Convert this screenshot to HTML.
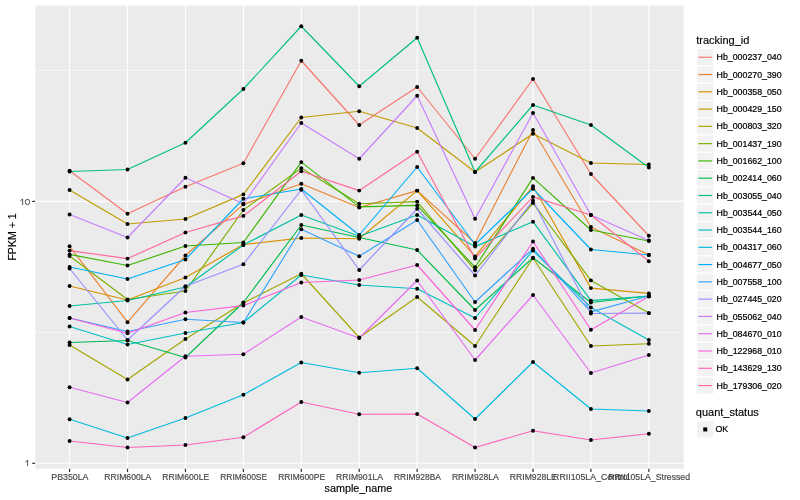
<!DOCTYPE html>
<html><head><meta charset="utf-8"><title>expression plot</title>
<style>
html,body{margin:0;padding:0;background:#fff;}
body{width:800px;height:500px;overflow:hidden;}
svg{display:block;will-change:transform;}
text{font-family:"Liberation Sans",sans-serif;}
.ax{font-size:8.8px;fill:#454545;stroke:#4D4D4D;stroke-width:0.18px;}
.lg{font-size:8.8px;fill:#000;stroke:#000;stroke-width:0.22px;}
.tt{font-size:11px;fill:#000;stroke:#000;stroke-width:0.15px;}
</style></head><body>
<svg width="800" height="500" viewBox="0 0 800 500">
<rect x="0" y="0" width="800" height="500" fill="#FFFFFF"/>
<rect x="35.4" y="5.6" width="648.35" height="463.15" fill="#EBEBEB"/>
<line x1="35.4" x2="683.75" y1="70.4" y2="70.4" stroke="#FFFFFF" stroke-width="0.55"/>
<line x1="35.4" x2="683.75" y1="332.4" y2="332.4" stroke="#FFFFFF" stroke-width="0.55"/>
<line x1="35.4" x2="683.75" y1="201.4" y2="201.4" stroke="#FFFFFF" stroke-width="1.07"/>
<line x1="35.4" x2="683.75" y1="463.3" y2="463.3" stroke="#FFFFFF" stroke-width="1.07"/>
<line x1="69.60" x2="69.60" y1="5.6" y2="468.75" stroke="#FFFFFF" stroke-width="1.07"/>
<line x1="127.52" x2="127.52" y1="5.6" y2="468.75" stroke="#FFFFFF" stroke-width="1.07"/>
<line x1="185.45" x2="185.45" y1="5.6" y2="468.75" stroke="#FFFFFF" stroke-width="1.07"/>
<line x1="243.37" x2="243.37" y1="5.6" y2="468.75" stroke="#FFFFFF" stroke-width="1.07"/>
<line x1="301.30" x2="301.30" y1="5.6" y2="468.75" stroke="#FFFFFF" stroke-width="1.07"/>
<line x1="359.23" x2="359.23" y1="5.6" y2="468.75" stroke="#FFFFFF" stroke-width="1.07"/>
<line x1="417.15" x2="417.15" y1="5.6" y2="468.75" stroke="#FFFFFF" stroke-width="1.07"/>
<line x1="475.07" x2="475.07" y1="5.6" y2="468.75" stroke="#FFFFFF" stroke-width="1.07"/>
<line x1="533.00" x2="533.00" y1="5.6" y2="468.75" stroke="#FFFFFF" stroke-width="1.07"/>
<line x1="590.92" x2="590.92" y1="5.6" y2="468.75" stroke="#FFFFFF" stroke-width="1.07"/>
<line x1="648.85" x2="648.85" y1="5.6" y2="468.75" stroke="#FFFFFF" stroke-width="1.07"/>
<g fill="none" stroke-width="1.15" stroke-linejoin="round" stroke-linecap="butt">
<polyline points="69.60,170.70 127.52,213.75 185.45,186.75 243.37,163.25 301.30,60.75 359.23,125.00 417.15,87.00 475.07,158.75 533.00,79.00 590.92,174.00 648.85,235.75" stroke="#F8766D"/>
<polyline points="69.60,246.25 127.52,322.20 185.45,255.50 243.37,204.40 301.30,183.75 359.23,207.50 417.15,190.60 475.07,243.00 533.00,130.00 590.92,227.00 648.85,255.00" stroke="#EA8331"/>
<polyline points="69.60,286.00 127.52,300.00 185.45,277.50 243.37,244.50 301.30,238.00 359.23,238.75 417.15,190.60 475.07,256.40 533.00,186.25 590.92,288.10 648.85,293.40" stroke="#D89000"/>
<polyline points="69.60,190.00 127.52,224.00 185.45,219.00 243.37,194.40 301.30,117.50 359.23,111.25 417.15,128.00 475.07,172.00 533.00,133.75 590.92,163.00 648.85,164.50" stroke="#C09B00"/>
<polyline points="69.60,345.00 127.52,379.50 185.45,339.00 243.37,303.00 301.30,273.75 359.23,337.50 417.15,297.00 475.07,346.00 533.00,258.00 590.92,346.00 648.85,343.75" stroke="#A3A500"/>
<polyline points="69.60,256.00 127.52,299.50 185.45,291.00 243.37,210.00 301.30,168.10 359.23,203.75 417.15,201.60 475.07,270.20 533.00,203.00 590.92,280.40 648.85,313.10" stroke="#7CAE00"/>
<polyline points="69.60,254.40 127.52,265.50 185.45,246.00 243.37,242.50 301.30,162.10 359.23,206.90 417.15,205.40 475.07,267.20 533.00,177.90 590.92,230.00 648.85,241.00" stroke="#39B600"/>
<polyline points="69.60,342.50 127.52,340.50 185.45,357.50 243.37,302.50 301.30,225.00 359.23,237.50 417.15,250.00 475.07,310.00 533.00,257.75 590.92,302.50 648.85,296.00" stroke="#00BB4E"/>
<polyline points="69.60,171.50 127.52,169.50 185.45,142.75 243.37,89.00 301.30,26.25 359.23,86.25 417.15,37.75 475.07,172.00 533.00,105.00 590.92,125.00 648.85,167.50" stroke="#00BF7D"/>
<polyline points="69.60,306.00 127.52,300.50 185.45,287.00 243.37,245.00 301.30,215.00 359.23,236.25 417.15,215.00 475.07,246.60 533.00,221.70 590.92,300.60 648.85,296.00" stroke="#00C1A3"/>
<polyline points="69.60,326.50 127.52,344.50 185.45,333.00 243.37,322.50 301.30,275.00 359.23,285.00 417.15,288.75 475.07,318.00 533.00,250.60 590.92,307.50 648.85,340.00" stroke="#00BFC4"/>
<polyline points="69.60,419.25 127.52,438.00 185.45,418.00 243.37,394.75 301.30,362.50 359.23,372.75 417.15,368.25 475.07,419.00 533.00,362.00 590.92,409.00 648.85,411.00" stroke="#00BAE0"/>
<polyline points="69.60,267.00 127.52,279.00 185.45,259.50 243.37,198.75 301.30,189.00 359.23,235.00 417.15,167.00 475.07,244.50 533.00,188.75 590.92,249.50 648.85,255.00" stroke="#00B0F6"/>
<polyline points="69.60,318.00 127.52,331.50 185.45,319.25 243.37,322.50 301.30,229.25 359.23,256.25 417.15,220.00 475.07,302.00 533.00,248.75 590.92,311.90 648.85,296.00" stroke="#35A2FF"/>
<polyline points="69.60,268.50 127.52,340.00 185.45,286.25 243.37,264.25 301.30,189.75 359.23,270.00 417.15,208.75 475.07,275.50 533.00,200.60 590.92,313.50 648.85,313.10" stroke="#9590FF"/>
<polyline points="69.60,214.50 127.52,237.50 185.45,177.75 243.37,203.75 301.30,123.00 359.23,158.75 417.15,95.75 475.07,218.75 533.00,113.00 590.92,215.00 648.85,240.50" stroke="#C77CFF"/>
<polyline points="69.60,387.20 127.52,402.50 185.45,356.25 243.37,354.25 301.30,317.00 359.23,338.00 417.15,280.50 475.07,360.00 533.00,295.00 590.92,373.00 648.85,355.00" stroke="#E76BF3"/>
<polyline points="69.60,318.00 127.52,333.30 185.45,312.50 243.37,305.60 301.30,282.50 359.23,280.00 417.15,265.00 475.07,330.00 533.00,241.50 590.92,329.75 648.85,296.50" stroke="#FA62DB"/>
<polyline points="69.60,441.00 127.52,447.50 185.45,445.00 243.37,437.25 301.30,402.00 359.23,414.25 417.15,414.00 475.07,447.50 533.00,430.75 590.92,440.00 648.85,433.75" stroke="#FF62BC"/>
<polyline points="69.60,250.60 127.52,258.60 185.45,232.50 243.37,215.90 301.30,171.25 359.23,190.60 417.15,151.75 475.07,258.50 533.00,196.90 590.92,215.00 648.85,261.25" stroke="#FF6A98"/>
</g>
<g fill="#000000">
<circle cx="69.60" cy="170.70" r="1.95"/><circle cx="127.52" cy="213.75" r="1.95"/><circle cx="185.45" cy="186.75" r="1.95"/><circle cx="243.37" cy="163.25" r="1.95"/><circle cx="301.30" cy="60.75" r="1.95"/><circle cx="359.23" cy="125.00" r="1.95"/><circle cx="417.15" cy="87.00" r="1.95"/><circle cx="475.07" cy="158.75" r="1.95"/><circle cx="533.00" cy="79.00" r="1.95"/><circle cx="590.92" cy="174.00" r="1.95"/><circle cx="648.85" cy="235.75" r="1.95"/>
<circle cx="69.60" cy="246.25" r="1.95"/><circle cx="127.52" cy="322.20" r="1.95"/><circle cx="185.45" cy="255.50" r="1.95"/><circle cx="243.37" cy="204.40" r="1.95"/><circle cx="301.30" cy="183.75" r="1.95"/><circle cx="359.23" cy="207.50" r="1.95"/><circle cx="417.15" cy="190.60" r="1.95"/><circle cx="475.07" cy="243.00" r="1.95"/><circle cx="533.00" cy="130.00" r="1.95"/><circle cx="590.92" cy="227.00" r="1.95"/><circle cx="648.85" cy="255.00" r="1.95"/>
<circle cx="69.60" cy="286.00" r="1.95"/><circle cx="127.52" cy="300.00" r="1.95"/><circle cx="185.45" cy="277.50" r="1.95"/><circle cx="243.37" cy="244.50" r="1.95"/><circle cx="301.30" cy="238.00" r="1.95"/><circle cx="359.23" cy="238.75" r="1.95"/><circle cx="417.15" cy="190.60" r="1.95"/><circle cx="475.07" cy="256.40" r="1.95"/><circle cx="533.00" cy="186.25" r="1.95"/><circle cx="590.92" cy="288.10" r="1.95"/><circle cx="648.85" cy="293.40" r="1.95"/>
<circle cx="69.60" cy="190.00" r="1.95"/><circle cx="127.52" cy="224.00" r="1.95"/><circle cx="185.45" cy="219.00" r="1.95"/><circle cx="243.37" cy="194.40" r="1.95"/><circle cx="301.30" cy="117.50" r="1.95"/><circle cx="359.23" cy="111.25" r="1.95"/><circle cx="417.15" cy="128.00" r="1.95"/><circle cx="475.07" cy="172.00" r="1.95"/><circle cx="533.00" cy="133.75" r="1.95"/><circle cx="590.92" cy="163.00" r="1.95"/><circle cx="648.85" cy="164.50" r="1.95"/>
<circle cx="69.60" cy="345.00" r="1.95"/><circle cx="127.52" cy="379.50" r="1.95"/><circle cx="185.45" cy="339.00" r="1.95"/><circle cx="243.37" cy="303.00" r="1.95"/><circle cx="301.30" cy="273.75" r="1.95"/><circle cx="359.23" cy="337.50" r="1.95"/><circle cx="417.15" cy="297.00" r="1.95"/><circle cx="475.07" cy="346.00" r="1.95"/><circle cx="533.00" cy="258.00" r="1.95"/><circle cx="590.92" cy="346.00" r="1.95"/><circle cx="648.85" cy="343.75" r="1.95"/>
<circle cx="69.60" cy="256.00" r="1.95"/><circle cx="127.52" cy="299.50" r="1.95"/><circle cx="185.45" cy="291.00" r="1.95"/><circle cx="243.37" cy="210.00" r="1.95"/><circle cx="301.30" cy="168.10" r="1.95"/><circle cx="359.23" cy="203.75" r="1.95"/><circle cx="417.15" cy="201.60" r="1.95"/><circle cx="475.07" cy="270.20" r="1.95"/><circle cx="533.00" cy="203.00" r="1.95"/><circle cx="590.92" cy="280.40" r="1.95"/><circle cx="648.85" cy="313.10" r="1.95"/>
<circle cx="69.60" cy="254.40" r="1.95"/><circle cx="127.52" cy="265.50" r="1.95"/><circle cx="185.45" cy="246.00" r="1.95"/><circle cx="243.37" cy="242.50" r="1.95"/><circle cx="301.30" cy="162.10" r="1.95"/><circle cx="359.23" cy="206.90" r="1.95"/><circle cx="417.15" cy="205.40" r="1.95"/><circle cx="475.07" cy="267.20" r="1.95"/><circle cx="533.00" cy="177.90" r="1.95"/><circle cx="590.92" cy="230.00" r="1.95"/><circle cx="648.85" cy="241.00" r="1.95"/>
<circle cx="69.60" cy="342.50" r="1.95"/><circle cx="127.52" cy="340.50" r="1.95"/><circle cx="185.45" cy="357.50" r="1.95"/><circle cx="243.37" cy="302.50" r="1.95"/><circle cx="301.30" cy="225.00" r="1.95"/><circle cx="359.23" cy="237.50" r="1.95"/><circle cx="417.15" cy="250.00" r="1.95"/><circle cx="475.07" cy="310.00" r="1.95"/><circle cx="533.00" cy="257.75" r="1.95"/><circle cx="590.92" cy="302.50" r="1.95"/><circle cx="648.85" cy="296.00" r="1.95"/>
<circle cx="69.60" cy="171.50" r="1.95"/><circle cx="127.52" cy="169.50" r="1.95"/><circle cx="185.45" cy="142.75" r="1.95"/><circle cx="243.37" cy="89.00" r="1.95"/><circle cx="301.30" cy="26.25" r="1.95"/><circle cx="359.23" cy="86.25" r="1.95"/><circle cx="417.15" cy="37.75" r="1.95"/><circle cx="475.07" cy="172.00" r="1.95"/><circle cx="533.00" cy="105.00" r="1.95"/><circle cx="590.92" cy="125.00" r="1.95"/><circle cx="648.85" cy="167.50" r="1.95"/>
<circle cx="69.60" cy="306.00" r="1.95"/><circle cx="127.52" cy="300.50" r="1.95"/><circle cx="185.45" cy="287.00" r="1.95"/><circle cx="243.37" cy="245.00" r="1.95"/><circle cx="301.30" cy="215.00" r="1.95"/><circle cx="359.23" cy="236.25" r="1.95"/><circle cx="417.15" cy="215.00" r="1.95"/><circle cx="475.07" cy="246.60" r="1.95"/><circle cx="533.00" cy="221.70" r="1.95"/><circle cx="590.92" cy="300.60" r="1.95"/><circle cx="648.85" cy="296.00" r="1.95"/>
<circle cx="69.60" cy="326.50" r="1.95"/><circle cx="127.52" cy="344.50" r="1.95"/><circle cx="185.45" cy="333.00" r="1.95"/><circle cx="243.37" cy="322.50" r="1.95"/><circle cx="301.30" cy="275.00" r="1.95"/><circle cx="359.23" cy="285.00" r="1.95"/><circle cx="417.15" cy="288.75" r="1.95"/><circle cx="475.07" cy="318.00" r="1.95"/><circle cx="533.00" cy="250.60" r="1.95"/><circle cx="590.92" cy="307.50" r="1.95"/><circle cx="648.85" cy="340.00" r="1.95"/>
<circle cx="69.60" cy="419.25" r="1.95"/><circle cx="127.52" cy="438.00" r="1.95"/><circle cx="185.45" cy="418.00" r="1.95"/><circle cx="243.37" cy="394.75" r="1.95"/><circle cx="301.30" cy="362.50" r="1.95"/><circle cx="359.23" cy="372.75" r="1.95"/><circle cx="417.15" cy="368.25" r="1.95"/><circle cx="475.07" cy="419.00" r="1.95"/><circle cx="533.00" cy="362.00" r="1.95"/><circle cx="590.92" cy="409.00" r="1.95"/><circle cx="648.85" cy="411.00" r="1.95"/>
<circle cx="69.60" cy="267.00" r="1.95"/><circle cx="127.52" cy="279.00" r="1.95"/><circle cx="185.45" cy="259.50" r="1.95"/><circle cx="243.37" cy="198.75" r="1.95"/><circle cx="301.30" cy="189.00" r="1.95"/><circle cx="359.23" cy="235.00" r="1.95"/><circle cx="417.15" cy="167.00" r="1.95"/><circle cx="475.07" cy="244.50" r="1.95"/><circle cx="533.00" cy="188.75" r="1.95"/><circle cx="590.92" cy="249.50" r="1.95"/><circle cx="648.85" cy="255.00" r="1.95"/>
<circle cx="69.60" cy="318.00" r="1.95"/><circle cx="127.52" cy="331.50" r="1.95"/><circle cx="185.45" cy="319.25" r="1.95"/><circle cx="243.37" cy="322.50" r="1.95"/><circle cx="301.30" cy="229.25" r="1.95"/><circle cx="359.23" cy="256.25" r="1.95"/><circle cx="417.15" cy="220.00" r="1.95"/><circle cx="475.07" cy="302.00" r="1.95"/><circle cx="533.00" cy="248.75" r="1.95"/><circle cx="590.92" cy="311.90" r="1.95"/><circle cx="648.85" cy="296.00" r="1.95"/>
<circle cx="69.60" cy="268.50" r="1.95"/><circle cx="127.52" cy="340.00" r="1.95"/><circle cx="185.45" cy="286.25" r="1.95"/><circle cx="243.37" cy="264.25" r="1.95"/><circle cx="301.30" cy="189.75" r="1.95"/><circle cx="359.23" cy="270.00" r="1.95"/><circle cx="417.15" cy="208.75" r="1.95"/><circle cx="475.07" cy="275.50" r="1.95"/><circle cx="533.00" cy="200.60" r="1.95"/><circle cx="590.92" cy="313.50" r="1.95"/><circle cx="648.85" cy="313.10" r="1.95"/>
<circle cx="69.60" cy="214.50" r="1.95"/><circle cx="127.52" cy="237.50" r="1.95"/><circle cx="185.45" cy="177.75" r="1.95"/><circle cx="243.37" cy="203.75" r="1.95"/><circle cx="301.30" cy="123.00" r="1.95"/><circle cx="359.23" cy="158.75" r="1.95"/><circle cx="417.15" cy="95.75" r="1.95"/><circle cx="475.07" cy="218.75" r="1.95"/><circle cx="533.00" cy="113.00" r="1.95"/><circle cx="590.92" cy="215.00" r="1.95"/><circle cx="648.85" cy="240.50" r="1.95"/>
<circle cx="69.60" cy="387.20" r="1.95"/><circle cx="127.52" cy="402.50" r="1.95"/><circle cx="185.45" cy="356.25" r="1.95"/><circle cx="243.37" cy="354.25" r="1.95"/><circle cx="301.30" cy="317.00" r="1.95"/><circle cx="359.23" cy="338.00" r="1.95"/><circle cx="417.15" cy="280.50" r="1.95"/><circle cx="475.07" cy="360.00" r="1.95"/><circle cx="533.00" cy="295.00" r="1.95"/><circle cx="590.92" cy="373.00" r="1.95"/><circle cx="648.85" cy="355.00" r="1.95"/>
<circle cx="69.60" cy="318.00" r="1.95"/><circle cx="127.52" cy="333.30" r="1.95"/><circle cx="185.45" cy="312.50" r="1.95"/><circle cx="243.37" cy="305.60" r="1.95"/><circle cx="301.30" cy="282.50" r="1.95"/><circle cx="359.23" cy="280.00" r="1.95"/><circle cx="417.15" cy="265.00" r="1.95"/><circle cx="475.07" cy="330.00" r="1.95"/><circle cx="533.00" cy="241.50" r="1.95"/><circle cx="590.92" cy="329.75" r="1.95"/><circle cx="648.85" cy="296.50" r="1.95"/>
<circle cx="69.60" cy="441.00" r="1.95"/><circle cx="127.52" cy="447.50" r="1.95"/><circle cx="185.45" cy="445.00" r="1.95"/><circle cx="243.37" cy="437.25" r="1.95"/><circle cx="301.30" cy="402.00" r="1.95"/><circle cx="359.23" cy="414.25" r="1.95"/><circle cx="417.15" cy="414.00" r="1.95"/><circle cx="475.07" cy="447.50" r="1.95"/><circle cx="533.00" cy="430.75" r="1.95"/><circle cx="590.92" cy="440.00" r="1.95"/><circle cx="648.85" cy="433.75" r="1.95"/>
<circle cx="69.60" cy="250.60" r="1.95"/><circle cx="127.52" cy="258.60" r="1.95"/><circle cx="185.45" cy="232.50" r="1.95"/><circle cx="243.37" cy="215.90" r="1.95"/><circle cx="301.30" cy="171.25" r="1.95"/><circle cx="359.23" cy="190.60" r="1.95"/><circle cx="417.15" cy="151.75" r="1.95"/><circle cx="475.07" cy="258.50" r="1.95"/><circle cx="533.00" cy="196.90" r="1.95"/><circle cx="590.92" cy="215.00" r="1.95"/><circle cx="648.85" cy="261.25" r="1.95"/>
</g>
<g stroke="#2B2B2B" stroke-width="1.15">
<line x1="69.60" x2="69.60" y1="468.75" y2="472.05"/><line x1="127.52" x2="127.52" y1="468.75" y2="472.05"/><line x1="185.45" x2="185.45" y1="468.75" y2="472.05"/><line x1="243.37" x2="243.37" y1="468.75" y2="472.05"/><line x1="301.30" x2="301.30" y1="468.75" y2="472.05"/><line x1="359.23" x2="359.23" y1="468.75" y2="472.05"/><line x1="417.15" x2="417.15" y1="468.75" y2="472.05"/><line x1="475.07" x2="475.07" y1="468.75" y2="472.05"/><line x1="533.00" x2="533.00" y1="468.75" y2="472.05"/><line x1="590.92" x2="590.92" y1="468.75" y2="472.05"/><line x1="648.85" x2="648.85" y1="468.75" y2="472.05"/><line x1="32.20" x2="35.10" y1="201.4" y2="201.4"/><line x1="32.20" x2="35.10" y1="463.3" y2="463.3"/>
</g>
<text class="ax" x="69.90" y="479.55" text-anchor="middle">PB350LA</text>
<text class="ax" x="127.82" y="479.55" text-anchor="middle" textLength="46.9" lengthAdjust="spacingAndGlyphs">RRIM600LA</text>
<text class="ax" x="185.75" y="479.55" text-anchor="middle" textLength="46.9" lengthAdjust="spacingAndGlyphs">RRIM600LE</text>
<text class="ax" x="243.67" y="479.55" text-anchor="middle" textLength="46.9" lengthAdjust="spacingAndGlyphs">RRIM600SE</text>
<text class="ax" x="301.60" y="479.55" text-anchor="middle" textLength="46.9" lengthAdjust="spacingAndGlyphs">RRIM600PE</text>
<text class="ax" x="359.53" y="479.55" text-anchor="middle" textLength="46.9" lengthAdjust="spacingAndGlyphs">RRIM901LA</text>
<text class="ax" x="417.45" y="479.55" text-anchor="middle" textLength="46.9" lengthAdjust="spacingAndGlyphs">RRIM928BA</text>
<text class="ax" x="475.37" y="479.55" text-anchor="middle" textLength="46.9" lengthAdjust="spacingAndGlyphs">RRIM928LA</text>
<text class="ax" x="533.30" y="479.55" text-anchor="middle" textLength="46.9" lengthAdjust="spacingAndGlyphs">RRIM928LE</text>
<text class="ax" x="591.22" y="479.55" text-anchor="middle">RRII105LA_Control</text>
<text class="ax" x="649.15" y="479.55" text-anchor="middle" textLength="81.8" lengthAdjust="spacingAndGlyphs">RRII105LA_Stressed</text>
<g fill="none" stroke="#4D4D4D" stroke-linecap="butt"><path d="M22.65 198.85V205.1M20.35 200.75L22.45 199.15" stroke-width="0.95"/><rect x="25.35" y="199.3" width="4.3" height="5.35" rx="2.15" ry="2.3" stroke-width="1"/><path d="M27.6 460.1V466.2M25.3 462.0L27.4 460.4" stroke-width="0.95"/></g>
<text class="tt" x="358.4" y="491.9" text-anchor="middle" textLength="67.7" lengthAdjust="spacingAndGlyphs">sample_name</text>
<text class="tt" transform="translate(16.3,237) rotate(-90)" text-anchor="middle" textLength="47.2" lengthAdjust="spacingAndGlyphs">FPKM + 1</text>
<text class="tt" x="696.2" y="43.7">tracking_id</text>
<rect x="696.6" y="48.60" width="17.28" height="17.28" fill="#F2F2F2" stroke="#FFFFFF" stroke-width="1.07"/><line x1="698.33" x2="712.15" y1="57.24" y2="57.24" stroke="#F8766D" stroke-width="1.15"/><text class="lg" x="716.6" y="60.34">Hb_000237_040</text>
<rect x="696.6" y="65.88" width="17.28" height="17.28" fill="#F2F2F2" stroke="#FFFFFF" stroke-width="1.07"/><line x1="698.33" x2="712.15" y1="74.52" y2="74.52" stroke="#EA8331" stroke-width="1.15"/><text class="lg" x="716.6" y="77.62">Hb_000270_390</text>
<rect x="696.6" y="83.16" width="17.28" height="17.28" fill="#F2F2F2" stroke="#FFFFFF" stroke-width="1.07"/><line x1="698.33" x2="712.15" y1="91.80" y2="91.80" stroke="#D89000" stroke-width="1.15"/><text class="lg" x="716.6" y="94.90">Hb_000358_050</text>
<rect x="696.6" y="100.44" width="17.28" height="17.28" fill="#F2F2F2" stroke="#FFFFFF" stroke-width="1.07"/><line x1="698.33" x2="712.15" y1="109.08" y2="109.08" stroke="#C09B00" stroke-width="1.15"/><text class="lg" x="716.6" y="112.18">Hb_000429_150</text>
<rect x="696.6" y="117.72" width="17.28" height="17.28" fill="#F2F2F2" stroke="#FFFFFF" stroke-width="1.07"/><line x1="698.33" x2="712.15" y1="126.36" y2="126.36" stroke="#A3A500" stroke-width="1.15"/><text class="lg" x="716.6" y="129.46">Hb_000803_320</text>
<rect x="696.6" y="135.00" width="17.28" height="17.28" fill="#F2F2F2" stroke="#FFFFFF" stroke-width="1.07"/><line x1="698.33" x2="712.15" y1="143.64" y2="143.64" stroke="#7CAE00" stroke-width="1.15"/><text class="lg" x="716.6" y="146.74">Hb_001437_190</text>
<rect x="696.6" y="152.28" width="17.28" height="17.28" fill="#F2F2F2" stroke="#FFFFFF" stroke-width="1.07"/><line x1="698.33" x2="712.15" y1="160.92" y2="160.92" stroke="#39B600" stroke-width="1.15"/><text class="lg" x="716.6" y="164.02">Hb_001662_100</text>
<rect x="696.6" y="169.56" width="17.28" height="17.28" fill="#F2F2F2" stroke="#FFFFFF" stroke-width="1.07"/><line x1="698.33" x2="712.15" y1="178.20" y2="178.20" stroke="#00BB4E" stroke-width="1.15"/><text class="lg" x="716.6" y="181.30">Hb_002414_060</text>
<rect x="696.6" y="186.84" width="17.28" height="17.28" fill="#F2F2F2" stroke="#FFFFFF" stroke-width="1.07"/><line x1="698.33" x2="712.15" y1="195.48" y2="195.48" stroke="#00BF7D" stroke-width="1.15"/><text class="lg" x="716.6" y="198.58">Hb_003055_040</text>
<rect x="696.6" y="204.12" width="17.28" height="17.28" fill="#F2F2F2" stroke="#FFFFFF" stroke-width="1.07"/><line x1="698.33" x2="712.15" y1="212.76" y2="212.76" stroke="#00C1A3" stroke-width="1.15"/><text class="lg" x="716.6" y="215.86">Hb_003544_050</text>
<rect x="696.6" y="221.40" width="17.28" height="17.28" fill="#F2F2F2" stroke="#FFFFFF" stroke-width="1.07"/><line x1="698.33" x2="712.15" y1="230.04" y2="230.04" stroke="#00BFC4" stroke-width="1.15"/><text class="lg" x="716.6" y="233.14">Hb_003544_160</text>
<rect x="696.6" y="238.68" width="17.28" height="17.28" fill="#F2F2F2" stroke="#FFFFFF" stroke-width="1.07"/><line x1="698.33" x2="712.15" y1="247.32" y2="247.32" stroke="#00BAE0" stroke-width="1.15"/><text class="lg" x="716.6" y="250.42">Hb_004317_060</text>
<rect x="696.6" y="255.96" width="17.28" height="17.28" fill="#F2F2F2" stroke="#FFFFFF" stroke-width="1.07"/><line x1="698.33" x2="712.15" y1="264.60" y2="264.60" stroke="#00B0F6" stroke-width="1.15"/><text class="lg" x="716.6" y="267.70">Hb_004677_050</text>
<rect x="696.6" y="273.24" width="17.28" height="17.28" fill="#F2F2F2" stroke="#FFFFFF" stroke-width="1.07"/><line x1="698.33" x2="712.15" y1="281.88" y2="281.88" stroke="#35A2FF" stroke-width="1.15"/><text class="lg" x="716.6" y="284.98">Hb_007558_100</text>
<rect x="696.6" y="290.52" width="17.28" height="17.28" fill="#F2F2F2" stroke="#FFFFFF" stroke-width="1.07"/><line x1="698.33" x2="712.15" y1="299.16" y2="299.16" stroke="#9590FF" stroke-width="1.15"/><text class="lg" x="716.6" y="302.26">Hb_027445_020</text>
<rect x="696.6" y="307.80" width="17.28" height="17.28" fill="#F2F2F2" stroke="#FFFFFF" stroke-width="1.07"/><line x1="698.33" x2="712.15" y1="316.44" y2="316.44" stroke="#C77CFF" stroke-width="1.15"/><text class="lg" x="716.6" y="319.54">Hb_055062_040</text>
<rect x="696.6" y="325.08" width="17.28" height="17.28" fill="#F2F2F2" stroke="#FFFFFF" stroke-width="1.07"/><line x1="698.33" x2="712.15" y1="333.72" y2="333.72" stroke="#E76BF3" stroke-width="1.15"/><text class="lg" x="716.6" y="336.82">Hb_084670_010</text>
<rect x="696.6" y="342.36" width="17.28" height="17.28" fill="#F2F2F2" stroke="#FFFFFF" stroke-width="1.07"/><line x1="698.33" x2="712.15" y1="351.00" y2="351.00" stroke="#FA62DB" stroke-width="1.15"/><text class="lg" x="716.6" y="354.10">Hb_122968_010</text>
<rect x="696.6" y="359.64" width="17.28" height="17.28" fill="#F2F2F2" stroke="#FFFFFF" stroke-width="1.07"/><line x1="698.33" x2="712.15" y1="368.28" y2="368.28" stroke="#FF62BC" stroke-width="1.15"/><text class="lg" x="716.6" y="371.38">Hb_143629_130</text>
<rect x="696.6" y="376.92" width="17.28" height="17.28" fill="#F2F2F2" stroke="#FFFFFF" stroke-width="1.07"/><line x1="698.33" x2="712.15" y1="385.56" y2="385.56" stroke="#FF6A98" stroke-width="1.15"/><text class="lg" x="716.6" y="388.66">Hb_179306_020</text>
<text class="tt" x="695.8" y="415.6">quant_status</text>
<rect x="696.6" y="420.8" width="17.28" height="17.28" fill="#F2F2F2" stroke="#FFFFFF" stroke-width="1.07"/><rect x="703.24" y="427.44" width="4" height="4" fill="#000"/><text class="lg" x="715.5" y="431.64">OK</text>
</svg>
</body></html>
